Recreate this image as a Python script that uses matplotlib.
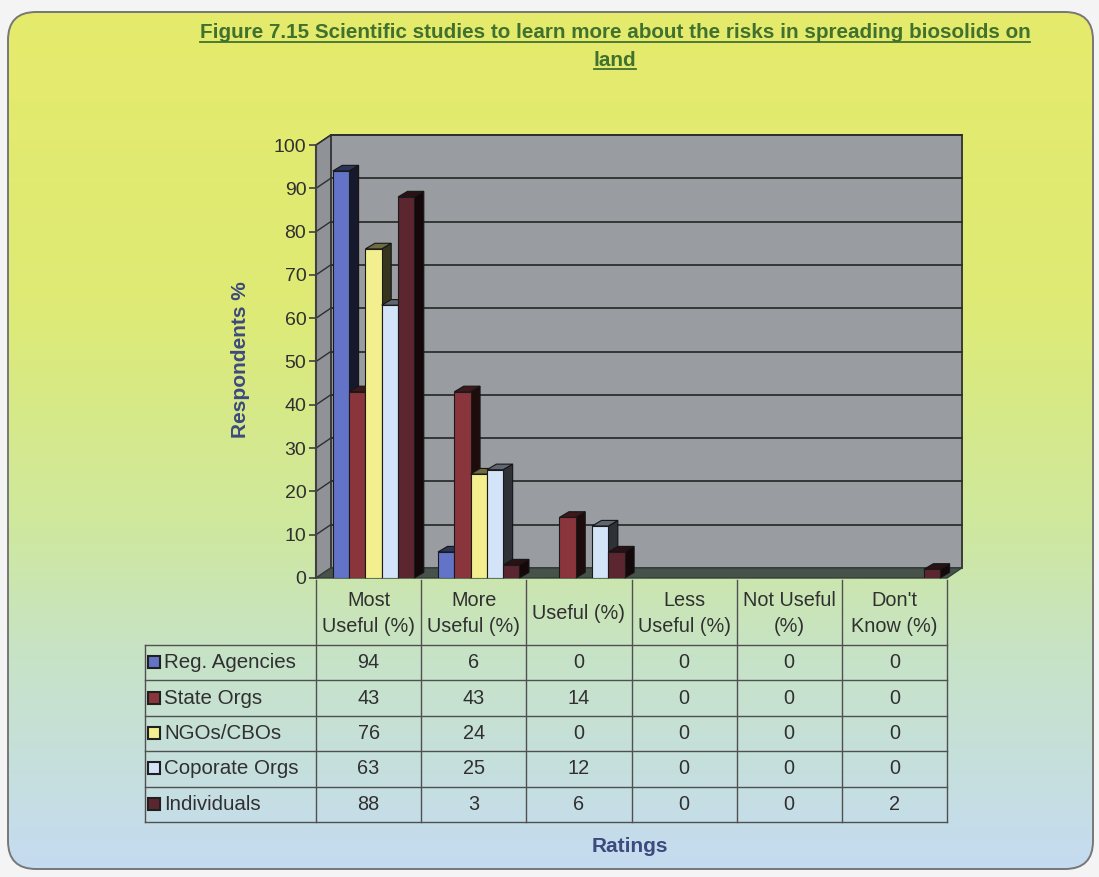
import numpy as np
import matplotlib
matplotlib.use("Agg")
import matplotlib.pyplot as plt
from matplotlib.patches import Polygon, FancyBboxPatch, Rectangle
from matplotlib.colors import to_rgb

plt.rcParams['font.family'] = ['Liberation Sans', 'DejaVu Sans']

# data
categories = ["Most\nUseful (%)", "More\nUseful (%)", "Useful (%)",
              "Less\nUseful (%)", "Not Useful\n(%)", "Don't\nKnow (%)"]
series = ["Reg. Agencies", "State Orgs", "NGOs/CBOs", "Coporate Orgs", "Individuals"]
reg_agencies = [94, 6, 0, 0, 0, 0]
state_orgs = [43, 43, 14, 0, 0, 0]
ngos_cbos = [76, 24, 0, 0, 0, 0]
coporate_orgs = [63, 25, 12, 0, 0, 0]
individuals = [88, 3, 6, 0, 0, 2]
values = [reg_agencies, state_orgs, ngos_cbos, coporate_orgs, individuals]
yticks = list(range(0, 101, 10))

colors = ["#6373c8", "#8a353b", "#f3ef8e", "#d3e3f8", "#5c2630"]

W, H = 1099, 877
# plot box in pixels
AX_L, AX_R, AX_T, AX_B = 316, 947, 145, 578
DX, DY = 0.14, 2.3          # wall depth in data units
BDX, BDY = 0.09, 1.3        # bar depth
BW = 0.155                  # bar width
OFF = 0.16                  # first bar offset inside category

fig = plt.figure(figsize=(W / 100, H / 100), dpi=100)
fig.patch.set_facecolor("#f4f4f4")

# background layer in pixel coordinates
bg = fig.add_axes([0, 0, 1, 1], zorder=0)
bg.set_xlim(0, W)
bg.set_ylim(H, 0)
bg.axis("off")

box = FancyBboxPatch((8, 12), 1085, 857, boxstyle="round,pad=0,rounding_size=28",
                     facecolor="none", edgecolor="#777777", linewidth=1.4, zorder=3)
bg.add_patch(box)
stops = np.array([0.0, 0.35, 0.6, 0.75, 1.0])
cols = np.array([[0.90, 0.92, 0.42], [0.87, 0.92, 0.46], [0.81, 0.91, 0.62],
                 [0.78, 0.89, 0.78], [0.77, 0.86, 0.95]])
yy = np.linspace(0, 1, 300)
grad = np.stack([np.interp(yy, stops, cols[:, k]) for k in range(3)], axis=-1)
grad = np.repeat(grad[:, None, :], 4, axis=1)
im = bg.imshow(grad, extent=(0, W, H, 0), aspect="auto", zorder=1)
im.set_clip_path(box)

title_color = "#41712f"
t1 = bg.text(615, 33, "Figure 7.15 Scientific studies to learn more about the risks in spreading biosolids on",
             ha="center", va="center", fontsize=14.9, fontweight="bold", color=title_color, zorder=4)
t2 = bg.text(615, 60, "land", ha="center", va="center", fontsize=14.9,
             fontweight="bold", color=title_color, zorder=4)

label_color = "#3c4a7e"
bg.text(240, 360, "Respondents %", rotation=90, ha="center", va="center",
        fontsize=15, fontweight="bold", color=label_color, zorder=4)
bg.text(630, 847, "Ratings", ha="center", va="center",
        fontsize=15, fontweight="bold", color=label_color, zorder=4)

# data table under the plot
col_w = (AX_R - AX_L) / len(categories)
col_edges = [AX_L + j * col_w for j in range(len(categories) + 1)]
head_top, head_bot = 580, 645
row_h = 35.4
row_edges = [head_bot + k * row_h for k in range(len(series) + 1)]
tab_left = 145
line_kw = dict(color="#505050", linewidth=1.0, zorder=4)
text_color = "#303030"

for x in col_edges:
    bg.plot([x, x], [head_top, row_edges[-1]], **line_kw)
bg.plot([tab_left, tab_left], [head_bot, row_edges[-1]], **line_kw)
for y in row_edges:
    bg.plot([tab_left, AX_R], [y, y], **line_kw)

for j, cat in enumerate(categories):
    cx = (col_edges[j] + col_edges[j + 1]) / 2
    bg.text(cx, (head_top + head_bot) / 2 + 1, cat, ha="center", va="center",
            fontsize=14.3, color=text_color, linespacing=1.45, zorder=5)

for i, name in enumerate(series):
    cy = (row_edges[i] + row_edges[i + 1]) / 2
    bg.add_patch(Rectangle((148, cy - 6.5), 12, 12, facecolor=colors[i],
                           edgecolor="#202020", linewidth=1.5, zorder=5))
    bg.text(164, cy, name, ha="left", va="center", fontsize=14.8,
            color=text_color, zorder=5)
    for j, v in enumerate(values[i]):
        cx = (col_edges[j] + col_edges[j + 1]) / 2
        bg.text(cx, cy, str(v), ha="center", va="center", fontsize=14.3,
                color=text_color, zorder=5)

# chart axes
ax = fig.add_axes([AX_L / W, 1 - AX_B / H, (AX_R - AX_L) / W, (AX_B - AX_T) / H], zorder=1)
ax.set_xlim(0, len(categories))
ax.set_ylim(0, 100)
ax.patch.set_visible(False)
for s in ["top", "right", "bottom"]:
    ax.spines[s].set_visible(False)
ax.spines["left"].set_color("#404040")
ax.spines["left"].set_linewidth(1.5)
ax.set_xticks([])
ax.set_yticks(yticks)
ax.tick_params(axis="y", length=5, width=1.2, color="#404040", pad=2,
               labelsize=14, labelcolor="#303030")

n = len(categories)
wall_edge = "#3a3a3a"
ax.add_patch(Polygon([(DX, DY), (n + DX, DY), (n + DX, 100 + DY), (DX, 100 + DY)],
                     closed=True, facecolor="#999ca0", edgecolor=wall_edge,
                     linewidth=1.4, clip_on=False, zorder=0.5))
ax.add_patch(Polygon([(0, 0), (DX, DY), (DX, 100 + DY), (0, 100)],
                     closed=True, facecolor="#8f9297", edgecolor=wall_edge,
                     linewidth=1.0, clip_on=False, zorder=0.5))
for t in yticks[1:]:
    ax.plot([DX, n + DX], [t + DY, t + DY], color="#2e2e2e", linewidth=1.3,
            clip_on=False, zorder=0.6)
    ax.plot([0, DX], [t, t + DY], color="#2e2e2e", linewidth=1.0,
            clip_on=False, zorder=0.6)
ax.add_patch(Polygon([(0, 0), (n, 0), (n + DX, DY), (DX, DY)], closed=True,
                     facecolor="#46524a", edgecolor="#34403a", linewidth=1.0,
                     clip_on=False, zorder=0.7))


def shade(c, f):
    r, g, b = to_rgb(c)
    return (r * f, g * f, b * f)


# 3-D style columns: front face via ax.bar, side and top faces from the same values
x = np.arange(n)
for i, vals in enumerate(values):
    left = x + OFF + i * BW
    z = 2 + i
    ax.bar(left, vals, width=BW, align="edge", color=colors[i],
           edgecolor="#1a1a1a", linewidth=0.8, zorder=z + 0.2)
    for xl, v in zip(left, vals):
        if v <= 0:
            continue
        side = [(xl + BW, 0), (xl + BW + BDX, BDY), (xl + BW + BDX, v + BDY), (xl + BW, v)]
        top = [(xl, v), (xl + BDX, v + BDY), (xl + BW + BDX, v + BDY), (xl + BW, v)]
        ax.add_patch(Polygon(side, closed=True, facecolor=shade(colors[i], 0.22),
                             edgecolor="#151515", linewidth=0.8, clip_on=False, zorder=z))
        ax.add_patch(Polygon(top, closed=True, facecolor=shade(colors[i], 0.45),
                             edgecolor="#151515", linewidth=0.8, clip_on=False, zorder=z + 0.1))

# underline the title lines
fig.canvas.draw()
inv = bg.transData.inverted()
for t in (t1, t2):
    bb = t.get_window_extent()
    (x0, y0), (x1, y1) = inv.transform([(bb.x0, bb.y0), (bb.x1, bb.y1)])
    yb = max(y0, y1) - 1
    bg.plot([x0, x1], [yb, yb], color=title_color, linewidth=1.3, zorder=4)

fig.savefig("out.png", dpi=100, facecolor=fig.get_facecolor())
